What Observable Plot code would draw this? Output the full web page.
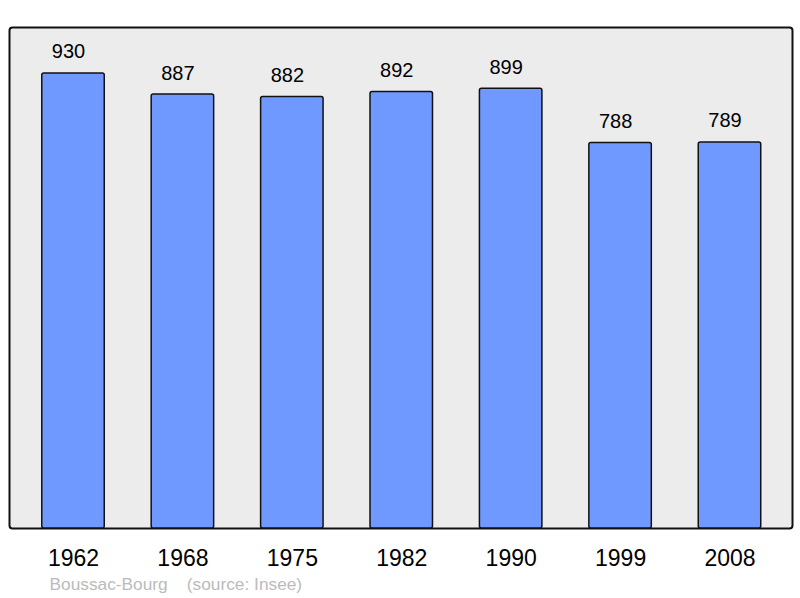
<!DOCTYPE html>
<html><head><meta charset="utf-8">
<script src="https://cdn.jsdelivr.net/npm/d3@7"></script>
<script src="https://cdn.jsdelivr.net/npm/@observablehq/plot@0.6"></script>
<style>body{margin:0;background:#fff;font-family:"Liberation Sans",Arial,sans-serif}</style>
</head><body><div id="chart"></div>
<script>
const years = ["1962","1968","1975","1982","1990","1999","2008"];
const population = [930, 887, 882, 892, 899, 788, 789];
const captionText = ["Boussac-Bourg    (source: Insee)"];

const data = years.map((y, i) => ({year: y, pop: population[i]}));

const chart = Plot.plot({
  width: 800,
  height: 598,
  marginLeft: 9,
  marginRight: 8,
  marginTop: 27,
  marginBottom: 70,
  style: {fontFamily: "Liberation Sans, Arial, sans-serif", background: "#fff"},
  x: {domain: years, insetLeft: 9.3, insetRight: 7.8, paddingInner: 0.429, paddingOuter: 0.2145, round: false, label: null},
  y: {domain: [0, 1024], axis: null},
  marks: [
    Plot.frame({fill: "#ececec", stroke: "#111", strokeWidth: 2, rx: 3}),
    Plot.barY(data, {x: "year", y: "pop", fill: "#7099ff", stroke: "#111", strokeWidth: 1.5, rx: 2}),
    Plot.text(data, {x: "year", y: "pop", text: d => String(d.pop), dx: -5, dy: -15, lineAnchor: "bottom", fontSize: 20, fill: "#000"}),
    Plot.axisX({tickSize: 0, tickPadding: 21, fontSize: 23, label: null, color: "#000"}),
    Plot.text(captionText, {frameAnchor: "bottom-left", text: d => d, dx: 40, dy: 61, lineAnchor: "bottom", textAnchor: "start", fontSize: 17.3, fill: "#bbb"})
  ]
});
document.getElementById("chart").appendChild(chart);
</script></body></html>
